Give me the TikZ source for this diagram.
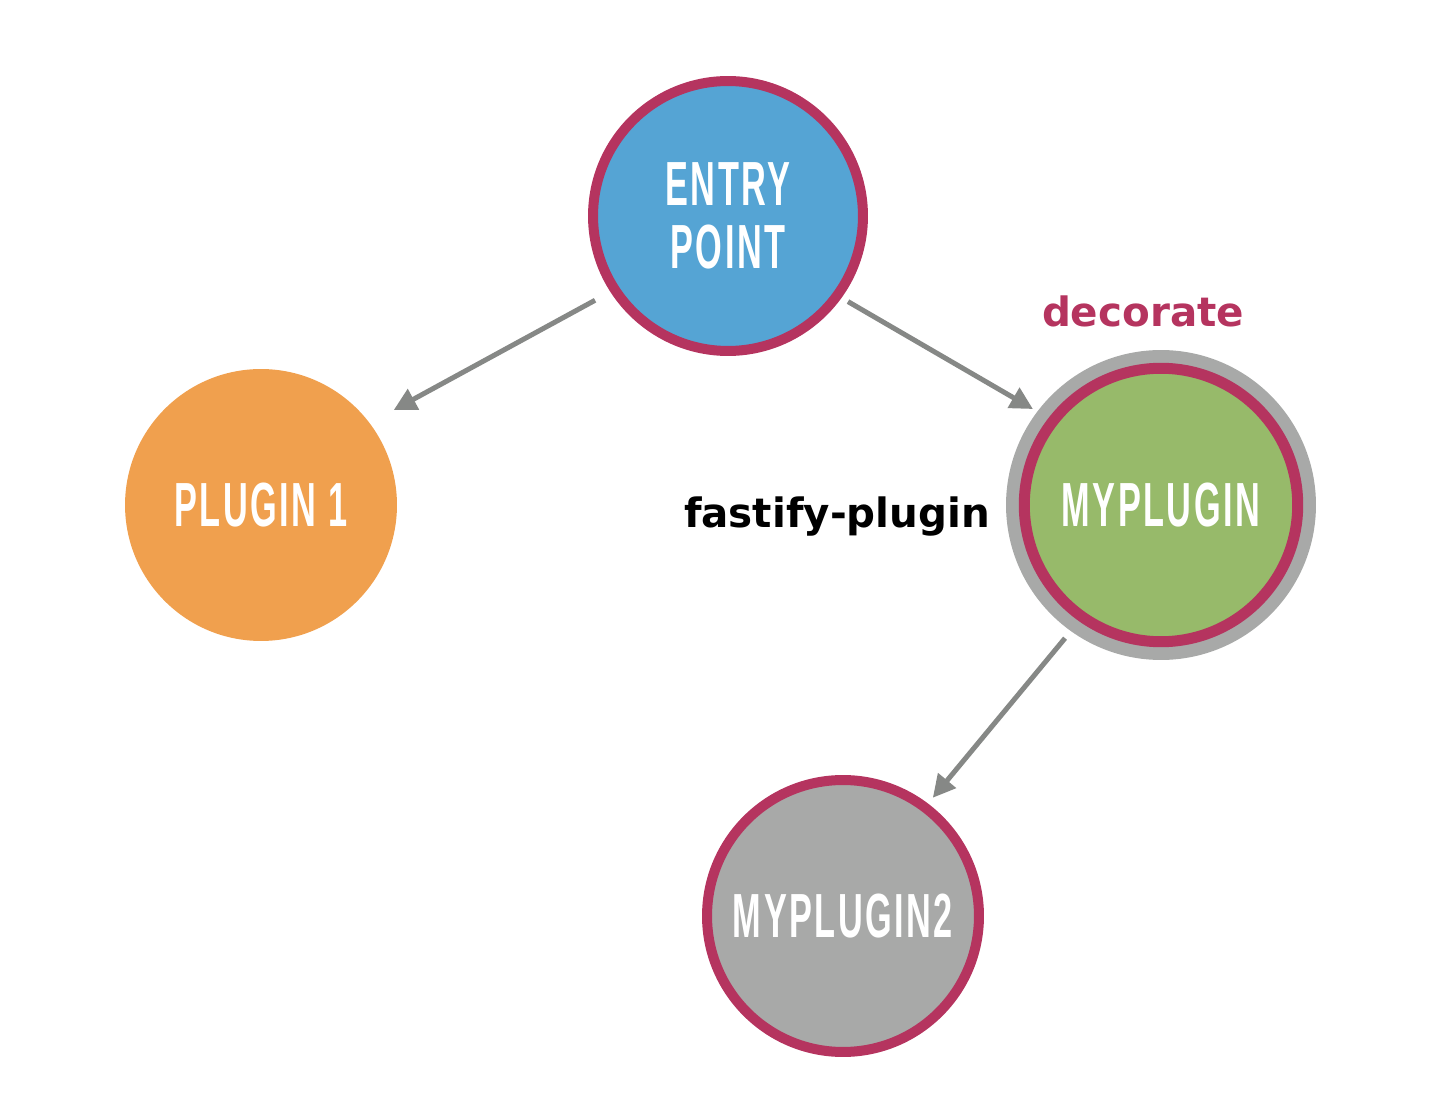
\documentclass[tikz,border=0pt]{standalone}
\usepackage{fontspec}
\usepackage{tikz}
\usetikzlibrary{shapes.geometric, arrows.meta, positioning, backgrounds}
\newfontfamily\dinfont[FakeStretch=0.55, LetterSpace=4]{Liberation Sans Bold}
\newfontfamily\labelfont{DejaVu Sans}
\definecolor{rim}{HTML}{B5345F}
\definecolor{entryblue}{HTML}{55A4D4}
\definecolor{pluginorange}{HTML}{F0A04E}
\definecolor{plugingreen}{HTML}{97BA6A}
\definecolor{plugingray}{HTML}{A8A9A8}
\definecolor{arrowgray}{HTML}{868886}
\tikzstyle{plugin} = [circle, inner sep=0pt, outer sep=0pt, minimum size=5.44cm, text=white, align=center, font=\dinfont\fontsize{35.5}{35.5}\selectfont]
\tikzstyle{rimmed} = [plugin, draw=rim, line width=0.2cm]
\tikzstyle{tag} = [font=\labelfont\bfseries\fontsize{23}{23}\selectfont, anchor=base]
\tikzstyle{arrow} = [line width=0.1cm, draw=arrowgray, -{Triangle[length=0.45cm, width=0.45cm]}]

\begin{document}
\begin{tikzpicture}[x=0.02cm, y=-0.02cm]
\useasboundingbox (0,0) rectangle (1444,1114);
% Define nodes - entry point and the plugins
\node (entry) [rimmed, fill=entryblue, minimum size=5.4cm] at (728,216) {ENTRY\\POINT};
\node (plug1) [plugin, fill=pluginorange] at (261,505) {PLUGIN 1};
\node (myplugin) [rimmed, fill=plugingreen, minimum size=5.47cm, line width=0.22cm] at (1161,505) {MYPLUGIN};
\node (myplugin2) [rimmed, fill=plugingray] at (843,916) {MYPLUGIN2};

% Gray ring behind the decorated plugin
\begin{scope}[on background layer]
\fill [plugingray] (myplugin) circle (3.1cm);
\end{scope}

% Labels
\node (decorate) [tag, text=rim] at (1143,327) {decorate};
\node (fp) [tag, text=black] at (837,528) {fastify-plugin};

% Draw the arrows between the nodes
\draw [arrow, shorten <=0.45cm, shorten >=0.55cm] (entry.213) -- (plug1.37);
\draw [arrow, shorten <=0.25cm, shorten >=0.47cm] (entry.324) -- (myplugin.142);
\draw [arrow, shorten <=0.55cm, shorten >=0.25cm] (myplugin.235) -- (myplugin2.53);
\end{tikzpicture}
\end{document}
